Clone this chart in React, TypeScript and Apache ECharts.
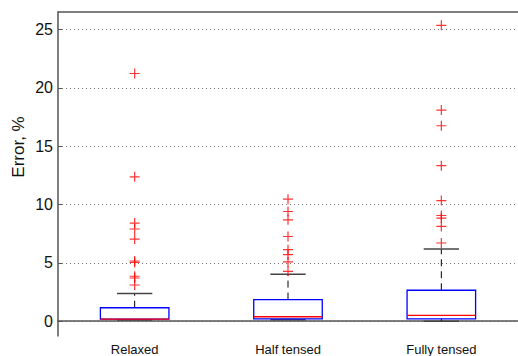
import React, { useEffect, useRef } from "react";
import * as echarts from "echarts";

const categories = ["Relaxed", "Half tensed", "Fully tensed"];
const whiskerLow = [0.1, 0.12, 0.0];
const quartile1 = [0.17, 0.2, 0.2];
const medians = [0.18, 0.38, 0.49];
const quartile3 = [1.15, 1.85, 2.65];
const whiskerHigh = [2.37, 4.02, 6.19];
const outliersRelaxed = [21.23, 12.37, 8.41, 7.9, 7.04, 5.16, 5.04, 3.85, 3.7, 3.1];
const outliersHalf = [10.46, 9.4, 8.69, 7.26, 6.13, 5.7, 5.08, 4.27];
const outliersFully = [25.36, 18.09, 16.75, 13.33, 10.34, 9.06, 8.84, 8.12, 6.7];
const yTicks = [0, 5, 10, 15, 20, 25];
const yLabel = "Error, %";

const FONT = "'Liberation Sans', Arial, sans-serif";

export default function App() {
  const ref = useRef<HTMLDivElement>(null);
  useEffect(() => {
    if (!ref.current) return;
    const chart = echarts.init(ref.current, null, { renderer: "svg" });
    const boxData = categories.map((_, i) => [
      i,
      whiskerLow[i],
      quartile1[i],
      medians[i],
      quartile3[i],
      whiskerHigh[i],
    ]);
    const outlierData: number[][] = [];
    [outliersRelaxed, outliersHalf, outliersFully].forEach((arr, i) =>
      arr.forEach((v) => outlierData.push([i, v]))
    );
    chart.setOption({
      animation: false,
      backgroundColor: "#ffffff",
      grid: { left: 58, top: 12, width: 470, height: 324.5, containLabel: false },
      xAxis: [
        {
          type: "category",
          data: categories,
          boundaryGap: true,
          axisLine: { show: true, lineStyle: { color: "#555", width: 1.5 } },
          axisTick: { show: false },
          axisLabel: { color: "#111", fontFamily: FONT, fontSize: 13, margin: 7 },
          splitLine: { show: false },
        },
        {
          type: "category",
          data: categories,
          position: "top",
          axisLine: { show: true, lineStyle: { color: "#555", width: 1.5 } },
          axisTick: { show: false },
          axisLabel: { show: false },
        },
      ],
      yAxis: {
        type: "value",
        min: -1.27,
        max: 26.5,
        axisLine: { show: true, lineStyle: { color: "#555", width: 1.5 } },
        axisTick: {
          show: true,
          inside: true,
          length: 4,
          customValues: yTicks,
          lineStyle: { color: "#555" },
        },
        axisLabel: {
          customValues: yTicks,
          color: "#111",
          fontFamily: FONT,
          fontSize: 16,
          margin: 5,
        },
        splitLine: {
          show: true,
          lineStyle: { color: "#777", type: [1, 3], width: 1 },
        },
      },
      graphic: [
        {
          type: "text",
          x: 18,
          y: 147,
          rotation: Math.PI / 2,
          style: {
            text: yLabel,
            textAlign: "center",
            textVerticalAlign: "middle",
            fontFamily: FONT,
            fontSize: 17,
            fill: "#111",
          },
        },
      ],
      series: [
        {
          type: "custom",
          data: boxData,
          encode: { x: 0, y: [1, 2, 3, 4, 5] },
          renderItem: (params: any, api: any) => {
            const i = api.value(0);
            const band = api.size([1, 0])[0];
            const bw = band * 0.447;
            const cw = band * 0.23;
            const cx = api.coord([i, api.value(1)])[0];
            const yLo = api.coord([i, api.value(1)])[1];
            const yQ1 = api.coord([i, api.value(2)])[1];
            const yMed = api.coord([i, api.value(3)])[1];
            const yQ3 = api.coord([i, api.value(4)])[1];
            const yHi = api.coord([i, api.value(5)])[1];
            const dash = { stroke: "#000", lineWidth: 1, lineDash: [7, 5], fill: "none" };
            const cap = { stroke: "#444", lineWidth: 1.5, fill: "none" };
            return {
              type: "group",
              children: [
                { type: "line", shape: { x1: cx, y1: yQ3, x2: cx, y2: yHi }, style: dash },
                { type: "line", shape: { x1: cx, y1: yQ1, x2: cx, y2: yLo }, style: dash },
                { type: "line", shape: { x1: cx - cw / 2, y1: yHi, x2: cx + cw / 2, y2: yHi }, style: cap },
                { type: "line", shape: { x1: cx - cw / 2, y1: yLo, x2: cx + cw / 2, y2: yLo }, style: cap },
                {
                  type: "rect",
                  shape: { x: cx - bw / 2, y: yQ3, width: bw, height: yQ1 - yQ3 },
                  style: { fill: "none", stroke: "#0000ff", lineWidth: 1.3 },
                },
                {
                  type: "line",
                  shape: { x1: cx - bw / 2, y1: yMed, x2: cx + bw / 2, y2: yMed },
                  style: { stroke: "#ff0000", lineWidth: 1.3 },
                },
              ],
            };
          },
          z: 2,
        },
        {
          type: "scatter",
          data: outlierData,
          symbol: "path://M0,5L10,5M5,0L5,10",
          symbolSize: 10,
          itemStyle: { color: "none", borderColor: "#ff0000", borderWidth: 1.2 },
          z: 3,
        },
      ],
    });
    return () => chart.dispose();
  }, []);
  return (
    <div
      ref={ref}
      style={{ position: "fixed", left: 0, top: 0, width: 518, height: 356, background: "#fff" }}
    />
  );
}
